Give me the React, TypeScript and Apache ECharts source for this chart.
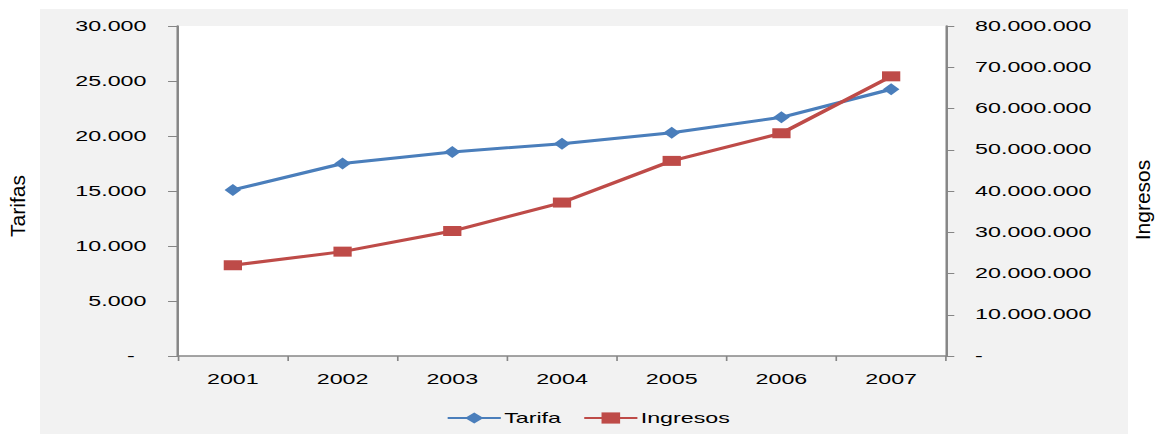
import React, { useEffect, useRef } from "react";
import * as echarts from "echarts";

// Years on the category axis
const years = ["2001", "2002", "2003", "2004", "2005", "2006", "2007"];
// Tarifa (left axis)
const tarifa = [15100, 17500, 18550, 19300, 20300, 21700, 24250];
// Ingresos (right axis)
const ingresos = [22000000, 25300000, 30300000, 37200000, 47300000, 54000000, 67800000];

// Axis scales
const tarifaMax = 30000;
const tarifaStep = 5000;
const ingresosMax = 80000000;
const ingresosStep = 10000000;

const PAGE_W = 1156;
const PAGE_H = 434;
// The chart is laid out on a narrower canvas and stretched horizontally
const W = 696;
const S = PAGE_W / W;
const px = (pageX: number) => pageX / S;

const FONT = "'Liberation Sans', Arial, sans-serif";
const AXIS_GRAY = "#868686";

// Thousands separated by dots, zero shown as a dash
const fmt = (v: number) =>
  Math.round(v)
    .toString()
    .replace(/\B(?=(\d{3})+(?!\d))/g, ".");

export default function App() {
  const ref = useRef<HTMLDivElement>(null);

  useEffect(() => {
    if (!ref.current) return;
    const chart = echarts.init(ref.current, null, { renderer: "svg" });

    const gridLeft = px(178);
    const gridRightEdge = px(946);

    chart.setOption({
      animation: false,
      backgroundColor: "#ffffff",
      textStyle: { fontFamily: FONT },
      graphic: [
        {
          type: "rect",
          z: -10,
          shape: { x: px(40), y: 9, width: px(1128) - px(40), height: 425 },
          style: { fill: "#f2f2f2" },
          silent: true,
        },
        {
          type: "text",
          x: px(18),
          y: 206,
          rotation: Math.PI / 2,
          scaleY: 1 / S,
          style: {
            text: "Tarifas",
            fontFamily: FONT,
            fontSize: 21,
            fill: "#000",
            align: "center",
            verticalAlign: "middle",
          },
        },
        {
          type: "text",
          x: px(1143),
          y: 200,
          rotation: Math.PI / 2,
          scaleY: 1 / S,
          style: {
            text: "Ingresos",
            fontFamily: FONT,
            fontSize: 21,
            fill: "#000",
            align: "center",
            verticalAlign: "middle",
          },
        },
      ],
      grid: {
        show: true,
        backgroundColor: "#ffffff",
        borderWidth: 0,
        left: gridLeft,
        right: W - gridRightEdge,
        top: 26,
        bottom: PAGE_H - 356,
      },
      legend: {
        data: ["Tarifa", "Ingresos"],
        left: px(446),
        top: 411,
        padding: 0,
        itemWidth: 32,
        itemHeight: 14,
        itemGap: 13,
        textStyle: { fontFamily: FONT, fontSize: 14, color: "#000", padding: [0, 0, 0, -3] },
      },
      xAxis: {
        type: "category",
        data: years,
        axisLine: { lineStyle: { color: AXIS_GRAY, width: 1.5 } },
        axisTick: { show: true, length: 5, lineStyle: { color: AXIS_GRAY, width: 1 } },
        axisLabel: { fontFamily: FONT, fontSize: 14, color: "#000", margin: 16 },
        splitLine: { show: false },
      },
      yAxis: [
        {
          type: "value",
          position: "left",
          min: 0,
          max: tarifaMax,
          interval: tarifaStep,
          axisLine: { show: true, lineStyle: { color: AXIS_GRAY, width: 1.5 } },
          axisTick: { show: true, length: 6, lineStyle: { color: AXIS_GRAY, width: 1 } },
          splitLine: { show: false },
          axisLabel: {
            fontFamily: FONT,
            fontSize: 14,
            color: "#000",
            margin: 19,
            formatter: (v: number) => (v === 0 ? "{z|-}" : fmt(v)),
            rich: { z: { fontFamily: FONT, fontSize: 14, color: "#000", padding: [0, 7, 0, 0] } },
          },
        },
        {
          type: "value",
          position: "right",
          min: 0,
          max: ingresosMax,
          interval: ingresosStep,
          axisLine: { show: true, lineStyle: { color: AXIS_GRAY, width: 1.5 } },
          axisTick: { show: true, length: 5, lineStyle: { color: AXIS_GRAY, width: 1 } },
          splitLine: { show: false },
          axisLabel: {
            fontFamily: FONT,
            fontSize: 14,
            color: "#000",
            margin: 17.5,
            formatter: (v: number) => (v === 0 ? "-" : fmt(v)),
          },
        },
      ],
      series: [
        {
          name: "Tarifa",
          type: "line",
          yAxisIndex: 0,
          data: tarifa,
          symbol: "diamond",
          symbolSize: [10, 12],
          lineStyle: { color: "#4a7ebb", width: 3 },
          itemStyle: { color: "#4a7ebb" },
        },
        {
          name: "Ingresos",
          type: "line",
          yAxisIndex: 1,
          data: ingresos,
          symbol: "rect",
          symbolSize: [11, 10],
          lineStyle: { color: "#be4b48", width: 3 },
          itemStyle: { color: "#be4b48" },
        },
      ],
    });

    return () => chart.dispose();
  }, []);

  return (
    <div
      style={{
        position: "absolute",
        left: 0,
        top: 0,
        width: PAGE_W,
        height: PAGE_H,
        overflow: "hidden",
        background: "#ffffff",
      }}
    >
      <div
        ref={ref}
        style={{
          width: W,
          height: PAGE_H,
          transform: `scaleX(${S})`,
          transformOrigin: "0 0",
        }}
      />
    </div>
  );
}
